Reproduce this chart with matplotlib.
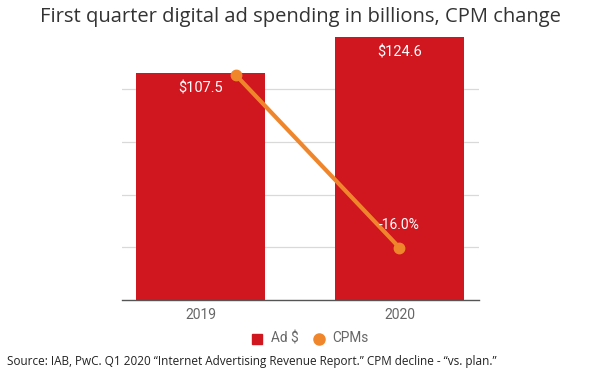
import matplotlib
matplotlib.use("Agg")
import matplotlib.pyplot as plt
from matplotlib.lines import Line2D

years = ["2019", "2020"]
ad_spend = [107.5, 124.6]
cpm_change = [0.0, -16.0]
bar_labels = ["$107.5", "$124.6"]
cpm_labels = [None, "-16.0%"]
legend_labels = ["Ad $", "CPMs"]

RED = "#d0161f"
ORANGE = "#f0862c"
W, H = 600, 375

fig = plt.figure(figsize=(6, 3.75), dpi=100)
left, right, bottom, top = 122, 479, 300, 34.4
ax = fig.add_axes([left / W, 1 - bottom / H, (right - left) / W, (bottom - top) / H])

x = list(range(len(years)))
ax.bar(x, ad_spend, width=0.648, color=RED, zorder=2)
ax.set_xlim(-0.395, 1.4)
ax.set_ylim(0, 126)
ax.set_yticks([25, 50, 75, 100])
ax.yaxis.grid(True, color="#d9d9d9", linewidth=0.9, zorder=0)
ax.tick_params(axis="y", length=0, labelleft=False)
ax.set_xticks(x)
ax.set_xticklabels(years, fontfamily="Roboto", fontsize=10, color="#666666")
ax.tick_params(axis="x", length=0, pad=6)
for s in ["top", "right", "left"]:
    ax.spines[s].set_visible(False)
ax.spines["bottom"].set_color("#555555")
ax.spines["bottom"].set_linewidth(1.0)
ax.set_axisbelow(True)

for xi, v, lab in zip(x, ad_spend, bar_labels):
    ax.annotate(lab, (xi, v), xytext=(0, -6), textcoords="offset points",
                ha="center", va="top", color="white", fontfamily="Roboto",
                fontsize=10.5, zorder=5)

ax2 = ax.twinx()
ax2.set_ylim(-20.85, 3.76)
ax2.axis("off")
# first CPM point drawn slightly right of the 2019 bar centre, as in the source
cpm_x = [xi + (0.177 if i == 0 else 0.0) for i, xi in enumerate(x)]
ax2.plot(cpm_x, cpm_change, color=ORANGE, linewidth=3.0, marker="o",
         markersize=7.5, zorder=4, solid_capstyle="round")
for xi, v, lab in zip(cpm_x, cpm_change, cpm_labels):
    if lab:
        ax2.annotate(lab, (xi, v), xytext=(0, 11), textcoords="offset points",
                     ha="center", va="bottom", color="white", fontfamily="Roboto",
                     fontsize=10, zorder=5)

fig.text(0.5, 1 - 17 / H, "First quarter digital ad spending in billions, CPM change",
         ha="center", va="center", fontfamily="Open Sans", fontsize=14.5, color="#333333")

# legend
ly = 1 - 338.5 / H
fig.add_artist(Line2D([256.5 / W], [ly], transform=fig.transFigure, marker="s",
                      linestyle="none", markersize=7, markerfacecolor=RED, markeredgecolor=RED))
fig.text(271 / W, ly, legend_labels[0], ha="left", va="center", fontfamily="Roboto",
         fontsize=9.8, color="#666666")
fig.add_artist(Line2D([318.5 / W], [ly], transform=fig.transFigure, marker="o",
                      linestyle="none", markersize=8, markerfacecolor=ORANGE, markeredgecolor=ORANGE))
fig.text(332 / W, ly, legend_labels[1], ha="left", va="center", fontfamily="Roboto",
         fontsize=9.8, color="#666666")

fig.text(7 / W, 1 - 362 / H,
         "Source: IAB, PwC. Q1 2020 \u201cInternet Advertising Revenue Report.\u201d CPM decline - \u201cvs. plan.\u201d",
         ha="left", va="center", fontfamily="Open Sans", fontsize=8.45, color="#222222")

fig.savefig("out.png", dpi=100)
